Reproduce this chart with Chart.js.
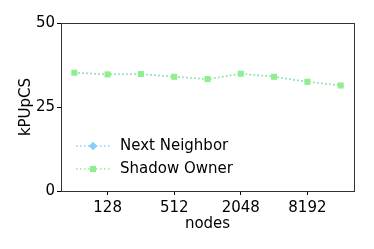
<!DOCTYPE html>
<html>
<head>
<meta charset="utf-8">
<style>
html,body{margin:0;padding:0;background:#fff;}
#wrap{width:374px;height:249px;}
</style>
<script src="https://cdn.jsdelivr.net/npm/chart.js@4/dist/chart.umd.min.js"></script>
</head>
<body>
<div id="wrap"><canvas id="c" width="374" height="249"></canvas></div>
<script>
const nodes = [64, 128, 256, 512, 1024, 2048, 4096, 8192, 16384];
const nextNeighbor = [35.2, 34.7, 34.8, 34.0, 33.3, 34.9, 34.0, 32.5, 31.4];
const shadowOwner = [35.2, 34.7, 34.8, 34.0, 33.3, 34.9, 34.0, 32.5, 31.4];
const xTicks = [128, 512, 2048, 8192];
const yTicks = [0, 25, 50];
const seriesNames = ['Next Neighbor', 'Shadow Owner'];

const FONT = "'DejaVu Sans', sans-serif";
const BLUE = '#87CEFA';
const GREEN = '#90EE90';

const frame = {
  id: 'frame',
  afterDatasetsDraw(chart) {
    const {ctx, chartArea: a} = chart;
    ctx.save();
    ctx.strokeStyle = '#333';
    ctx.lineWidth = 1;
    ctx.strokeRect(Math.round(a.left) + 0.5, Math.round(a.top) + 0.5,
      Math.round(a.right - a.left), Math.round(a.bottom - a.top));
    ctx.restore();
  }
};

const legendIn = {
  id: 'legendIn',
  afterDraw(chart) {
    const {ctx} = chart;
    const rows = [
      {name: seriesNames[0], color: BLUE, style: 'rectRot', r: 4, y: 146},
      {name: seriesNames[1], color: GREEN, style: 'rect', r: 4.3, y: 169}
    ];
    ctx.save();
    rows.forEach(row => {
      ctx.strokeStyle = row.color;
      ctx.lineWidth = 1.5;
      ctx.setLineDash([1.5, 2.5]);
      ctx.beginPath();
      ctx.moveTo(76, row.y);
      ctx.lineTo(110, row.y);
      ctx.stroke();
      ctx.setLineDash([]);
      ctx.fillStyle = row.color;
      Chart.helpers.drawPoint(ctx, {pointStyle: row.style, radius: row.r, borderWidth: 0}, 93, row.y);
      ctx.fill();
      ctx.fillStyle = '#000';
      ctx.font = '15px ' + FONT;
      ctx.textBaseline = 'middle';
      ctx.textAlign = 'left';
      ctx.fillText(row.name, 120, row.y);
    });
    ctx.restore();
  }
};

new Chart(document.getElementById('c'), {
  type: 'line',
  data: {
    datasets: [
      {
        label: seriesNames[0],
        order: 2,
        data: nodes.map((n, i) => ({x: n, y: nextNeighbor[i]})),
        borderColor: BLUE, backgroundColor: BLUE,
        borderWidth: 1.5, borderDash: [1.5, 2.5],
        pointStyle: 'rectRot', pointRadius: 2.8, pointBorderWidth: 0,
        pointBackgroundColor: BLUE
      },
      {
        label: seriesNames[1],
        order: 1,
        data: nodes.map((n, i) => ({x: n, y: shadowOwner[i]})),
        borderColor: GREEN, backgroundColor: GREEN,
        borderWidth: 1.5, borderDash: [1.5, 2.5],
        pointStyle: 'rect', pointRadius: 4.3, pointBorderWidth: 0,
        pointBackgroundColor: GREEN
      }
    ]
  },
  options: {
    responsive: false,
    animation: false,
    layout: {padding: {top: 23, right: 20, left: 0, bottom: 0}},
    plugins: {legend: {display: false}, tooltip: {enabled: false}},
    scales: {
      x: {
        type: 'logarithmic',
        min: Math.pow(2, 5.6),
        max: Math.pow(2, 14.4),
        afterBuildTicks(s) { s.ticks = xTicks.map(v => ({value: v})); },
        afterFit(s) { s.height = 58; },
        ticks: {
          color: '#000', font: {family: FONT, size: 15}, padding: 4,
          maxRotation: 0, autoSkip: false,
          callback: v => String(v)
        },
        grid: {drawOnChartArea: false, drawTicks: true, tickLength: 4, color: '#000'},
        border: {display: false},
        title: {display: true, text: 'nodes', color: '#000', font: {family: FONT, size: 15}, padding: {top: 0, bottom: 16}}
      },
      y: {
        min: 0, max: 50,
        afterBuildTicks(s) { s.ticks = yTicks.map(v => ({value: v})); },
        afterFit(s) { s.width = 61; },
        ticks: {color: '#000', font: {family: FONT, size: 15}, padding: 2},
        grid: {drawOnChartArea: false, drawTicks: true, tickLength: 4, color: '#000'},
        border: {display: false},
        title: {display: true, text: 'kPUpCS', color: '#000', font: {family: FONT, size: 15}, padding: {top: 17, bottom: 15}}
      }
    }
  },
  plugins: [frame, legendIn]
});
</script>
</body>
</html>
